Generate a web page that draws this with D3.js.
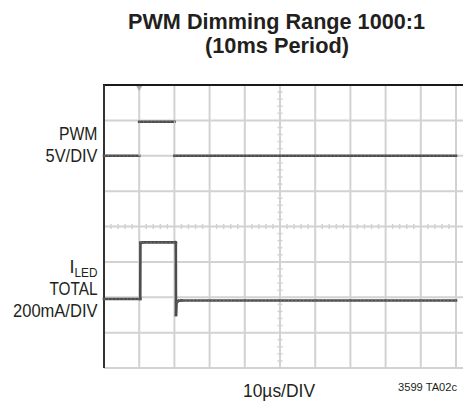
<!DOCTYPE html>
<html>
<head>
<meta charset="utf-8">
<script src="https://cdn.jsdelivr.net/npm/d3@7"></script>
<style>
  html, body { margin: 0; padding: 0; background: #fff; }
  svg { display: block; }
  .lbl { font-family: "Liberation Sans", Arial, sans-serif; fill: #231f20; }
  .ttl { font-family: "Liberation Sans", Arial, sans-serif; font-weight: bold; fill: #231f20; }
</style>
</head>
<body>
<script>
// Scope capture: PWM input vs. total LED current, 10µs per horizontal division
const timeDivisions = 10;     // horizontal divisions
const ampDivisions = 8;       // vertical divisions (-4 .. +4)
const usPerDiv = 10;

// PWM channel (volts, 5V/DIV), trace offset in divisions above centre
const pwmOffsetDiv = 2;
const pwmTime = [0, 10, 10, 20, 20, 100];
const pwmVolts = [0, 0, 4.8, 4.8, 0, 0];

// LED current channel (mA, 200mA/DIV), trace offset in divisions below centre
const iledOffsetDiv = -2.05;
const iledTime = [0, 10.3, 10.35, 11, 20.3, 20.4, 20.45, 20.6, 21.2, 22, 100];
const iledMa = [0, 0, 318, 320, 320, 318, -90, -20, -10, -8, -8];

const title = ["PWM Dimming Range 1000:1", "(10ms Period)"];
const xLabel = "10µs/DIV";
const noteLabel = "3599 TA02c";

const W = 463, H = 409;
const svg = d3.select("body").append("svg").attr("width", W).attr("height", H);

const plotL = 104, plotR = 456, plotT = 85, plotB = 368;
const x = d3.scaleLinear().domain([0, timeDivisions * usPerDiv]).range([plotL, plotR]);
const yDiv = d3.scaleLinear().domain([-ampDivisions / 2, ampDivisions / 2]).range([plotB, plotT]);

const grid = svg.append("g");
const gridColor = "#d2d2d2";

// vertical division lines
grid.selectAll("line.v").data(d3.range(1, timeDivisions + 1)).join("line")
  .attr("x1", d => x(d * usPerDiv)).attr("x2", d => x(d * usPerDiv))
  .attr("y1", plotT).attr("y2", plotB)
  .attr("stroke", gridColor).attr("stroke-width", 2);

// horizontal division lines
grid.selectAll("line.h").data(d3.range(-ampDivisions / 2, ampDivisions / 2)).join("line")
  .attr("x1", plotL).attr("x2", W)
  .attr("y1", d => yDiv(d)).attr("y2", d => yDiv(d))
  .attr("stroke", gridColor).attr("stroke-width", 2);

// minor ticks along the centre axes (5 per division)
const minorT = d3.range(0, timeDivisions * 5 + 1).filter(i => i % 5 !== 0);
grid.selectAll("line.mx").data(minorT).join("line")
  .attr("x1", i => x(i * usPerDiv / 5)).attr("x2", i => x(i * usPerDiv / 5))
  .attr("y1", yDiv(0) - 2.5).attr("y2", yDiv(0) + 2.5)
  .attr("stroke", gridColor).attr("stroke-width", 1.5);
const minorA = d3.range(-ampDivisions / 2 * 5, ampDivisions / 2 * 5 + 1).filter(i => i % 5 !== 0);
grid.selectAll("line.my").data(minorA).join("line")
  .attr("x1", x(50) - 2.5).attr("x2", x(50) + 2.5)
  .attr("y1", i => yDiv(i / 5)).attr("y2", i => yDiv(i / 5))
  .attr("stroke", gridColor).attr("stroke-width", 1.5);

// frame: dark top and left edges
svg.append("line").attr("x1", plotL - 1).attr("x2", W).attr("y1", plotT).attr("y2", plotT)
  .attr("stroke", "#1a1a1a").attr("stroke-width", 2);
svg.append("line").attr("x1", plotL).attr("x2", plotL).attr("y1", plotT).attr("y2", plotB)
  .attr("stroke", "#333").attr("stroke-width", 2);

// trigger marker
svg.append("path")
  .attr("d", `M${x(10) - 3},${plotT + 1} L${x(10) + 3},${plotT + 1} L${x(10)},${plotT + 6} Z`)
  .attr("fill", "#aaa");

// traces: level segments dark; instantaneous edges drawn faint when the
// sweep is too fast to leave a visible trail
function drawTrace(times, vals, perDiv, offsetDiv, faintEdges) {
  const pts = times.map((t, i) => [x(t), yDiv(offsetDiv + vals[i] / perDiv)]);
  const g = svg.append("g");
  d3.pairs(pts).forEach(([a, b]) => {
    const vertical = Math.abs(a[0] - b[0]) < 0.01;
    g.append("line").attr("x1", a[0]).attr("y1", a[1]).attr("x2", b[0]).attr("y2", b[1])
      .attr("stroke", vertical && faintEdges ? "#cfcfcf" : "#4d4d4d")
      .attr("stroke-width", vertical && faintEdges ? 1 : 2.6)
      .attr("stroke-linecap", "square");
  });
  const levels = d3.pairs(pts).filter(([a, b]) => Math.abs(a[0] - b[0]) > 1);
  levels.forEach(([a, b]) => {
    g.append("line").attr("x1", a[0]).attr("y1", a[1]).attr("x2", b[0]).attr("y2", b[1])
      .attr("stroke", "#9a9a9a").attr("stroke-width", 0.9)
      .attr("stroke-dasharray", "1.2,2.6").attr("opacity", 0.7);
  });
}
drawTrace(pwmTime, pwmVolts, 5, pwmOffsetDiv, true);
drawTrace(iledTime, iledMa, 200, iledOffsetDiv, false);

// title
svg.append("text").attr("class", "ttl").attr("x", 276.5).attr("y", 28.5)
  .attr("text-anchor", "middle").attr("font-size", 22)
  .attr("textLength", 297).attr("lengthAdjust", "spacingAndGlyphs").text(title[0]);
svg.append("text").attr("class", "ttl").attr("x", 277).attr("y", 52.5)
  .attr("text-anchor", "middle").attr("font-size", 22)
  .attr("textLength", 144).attr("lengthAdjust", "spacingAndGlyphs").text(title[1]);

// channel labels (condensed to fit the left margin)
const lx = 97.5;
function label(txt, y, len) {
  return svg.append("text").attr("class", "lbl").attr("x", lx).attr("y", y)
    .attr("text-anchor", "end").attr("font-size", 18)
    .attr("textLength", len).attr("lengthAdjust", "spacingAndGlyphs").text(txt);
}
label("PWM", 140, 38.5);
label("5V/DIV", 162, 52);

const il = svg.append("text").attr("class", "lbl").attr("x", lx).attr("y", 273)
  .attr("text-anchor", "end").attr("font-size", 18);
il.append("tspan").text("I");
il.append("tspan").attr("font-size", 13).attr("dy", 4).attr("textLength", 23)
  .attr("lengthAdjust", "spacingAndGlyphs").text("LED");
label("TOTAL", 295, 48);
label("200mA/DIV", 317, 84.5);

// horizontal scale and drawing number
svg.append("text").attr("class", "lbl").attr("x", 279).attr("y", 397)
  .attr("text-anchor", "middle").attr("font-size", 18)
  .attr("textLength", 72).attr("lengthAdjust", "spacingAndGlyphs").text(xLabel);
svg.append("text").attr("class", "lbl").attr("x", 457).attr("y", 390.5)
  .attr("text-anchor", "end").attr("font-size", 10.5)
  .attr("textLength", 59).attr("lengthAdjust", "spacingAndGlyphs").text(noteLabel);
</script>
</body>
</html>
